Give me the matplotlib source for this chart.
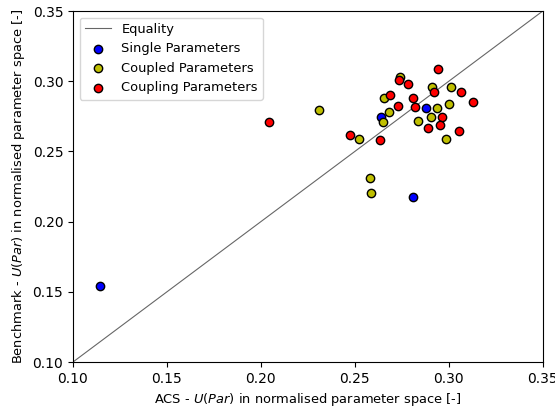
import matplotlib
matplotlib.use("Agg")
import matplotlib.pyplot as plt

single_x = [0.1144, 0.2638, 0.2878, 0.2812]
single_y = [0.1541, 0.2747, 0.2807, 0.2173]

coupled_x = [0.2739, 0.2910, 0.3014, 0.2656, 0.2935, 0.3000, 0.2309, 0.2682,
             0.2651, 0.2903, 0.2834, 0.2986, 0.2521, 0.2581, 0.2587]
coupled_y = [0.3028, 0.2957, 0.2957, 0.2882, 0.2807, 0.2835, 0.2793, 0.2778,
             0.2707, 0.2745, 0.2714, 0.2586, 0.2586, 0.2308, 0.2206]

coupling_x = [0.2940, 0.2734, 0.2784, 0.2919, 0.3064, 0.3131, 0.2688, 0.2807,
              0.2729, 0.2818, 0.2043, 0.2964, 0.2890, 0.2954, 0.3053, 0.2472, 0.2633]
coupling_y = [0.3085, 0.3009, 0.2978, 0.2923, 0.2923, 0.2850, 0.2902, 0.2882,
              0.2823, 0.2814, 0.2707, 0.2747, 0.2665, 0.2686, 0.2647, 0.2619, 0.2579]

limits = [0.10, 0.35]

fig = plt.figure(figsize=(5.55, 4.08), dpi=100)
ax = fig.add_axes([0.1315, 0.1127, 0.8465, 0.8603])
ax.plot(limits, limits, color='k', lw=0.8, alpha=0.6, label='Equality')
ax.scatter(single_x, single_y, s=36, c='b', edgecolors='k', label='Single Parameters', zorder=3)
ax.scatter(coupled_x, coupled_y, s=36, c='y', edgecolors='k', label='Coupled Parameters', zorder=3)
ax.scatter(coupling_x, coupling_y, s=36, c='r', edgecolors='k', label='Coupling Parameters', zorder=3)
ax.set_xlim(limits)
ax.set_ylim(limits)
ax.set_xlabel('ACS - $U(Par)$ in normalised parameter space [-]', fontsize=9.4)
ax.set_ylabel('Benchmark - $U(Par)$ in normalised parameter space [-]', fontsize=9.4)
ax.legend(loc='upper left', fontsize=9.4)
fig.savefig('out.png', dpi=100)
